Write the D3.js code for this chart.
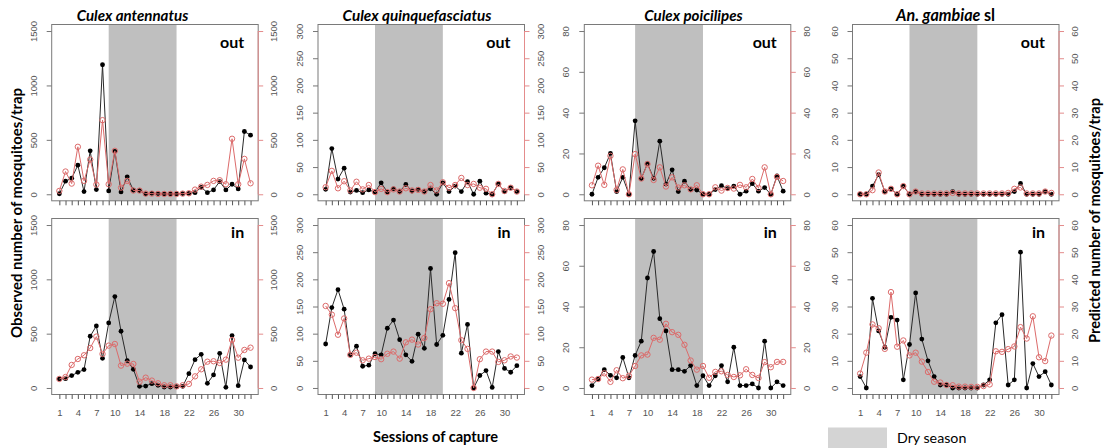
<!DOCTYPE html>
<html><head><meta charset="utf-8">
<script src="https://cdn.jsdelivr.net/npm/d3@7"></script>
<style>body{margin:0;background:#fff} svg{display:block}</style>
</head><body><svg id="c" width="1104" height="448"></svg>
<script>
// ---------- data ----------
const sessions = [1,2,3,4,5,6,7,8,9,10,11,12,13,14,15,16,17,18,19,20,21,22,23,24,25,26,27,28,29,30,31,32];
const sessionLabels = [1,4,7,10,14,18,22,26,30];
const species = ["Culex antennatus","Culex quinquefasciatus","Culex poicilipes","An. gambiae sl"];
const places = ["out","in"];
const yMaxes = [1500,300,80,60];
const yTicks = [[0,500,1000,1500],[0,50,100,150,200,250,300],[0,20,40,60,80],[0,10,20,30,40,50,60]];
const dryStart = [9,9,8,9];
const dryEnd = [20,20,19,20];

const antennatusOutObs  = [5,120,147,267,25,399,43,1190,31,395,22,160,37,34,3,9,6,3,3,3,6,9,15,64,15,40,117,40,92,49,577,543];
const antennatusOutPred = [31,209,98,436,123,319,89,681,92,399,61,123,34,34,6,6,3,3,3,3,6,9,43,70,86,123,129,92,510,92,325,101];
const antennatusInObs   = [83,86,114,144,169,476,571,273,599,841,522,252,172,15,18,40,25,9,9,12,15,132,261,310,43,120,319,6,482,21,258,193];
const antennatusInPred  = [83,101,212,267,301,368,473,313,390,405,206,224,221,58,95,68,43,25,25,15,25,37,107,172,242,246,230,261,442,279,350,371];

const quinqOutObs  = [9,84,28,48,4,7,3,8,4,21,4,10,5,18,6,9,5,10,0,21,5,15,5,23,0,24,2,0,19,5,12,5];
const quinqOutPred = [13,43,11,24,7,23,9,17,4,10,4,9,5,11,7,8,5,17,7,22,12,17,30,17,19,12,10,0,19,6,12,5];
const quinqInObs   = [81,148,181,145,61,77,40,42,63,61,110,125,89,61,49,99,73,220,80,97,163,249,64,117,0,23,32,1,67,36,29,41];
const quinqInPred  = [151,135,98,128,61,65,51,54,57,53,63,67,54,84,89,80,92,145,156,155,193,147,88,72,0,53,67,67,48,51,58,56];

const poicOutObs  = [0,8.3,13,20,1.3,8.3,0,36,7.7,15,7.8,26,5,12,1.3,6.4,2.3,2.1,0,0,2.3,4.2,2.8,4,0,1.5,5.2,1.5,3.3,0,9,1.5];
const poicOutPred = [4.4,14,4.6,18.8,2.1,12.2,0,19.7,7.7,14.8,7,13.2,3.8,8.3,3.3,4.4,2.4,4.4,0,0,3.4,1.8,3.1,2.8,4.6,3.4,7.5,3.1,13.2,0,8.5,6.5];
const poicInObs   = [1.2,4.4,9,6.2,5,15,5,16,23,54,67,34,28,9,9,8.2,11,1.2,6,1.2,6,11,3,20,1.2,1.2,2,0,23,0,3,1.2];
const poicInPred  = [4.1,4.4,7.2,3,8.7,4.8,6,10.8,16,16.4,24.6,23.7,31.5,27.4,26.1,21.2,13.5,9,10.8,5,7.9,8.2,6.4,5.4,6.2,9.2,6.4,4.9,12.7,10.2,12.8,12.8];

const gambOutObs  = [0,0,3,7.2,1,2,0,3,0,1,0,0,0,0,0,1,0,0,0,0,0,0,0,0,0,1,4,0,0,0,1,0];
const gambOutPred = [0,0,1.5,8,1,2,0,3,0,1,0.3,0.3,0.3,0.3,0.3,0.5,0.3,0.3,0.3,0.3,0.3,0.3,0.3,0.3,0.5,2,2.5,0.3,0.3,0.3,1,0.5];
const gambInObs   = [4.2,0,33,21,15,26,25,3,16,35,18,10,4.2,1.1,1.1,0,0,0,0,0,1.1,3,24,27,1.1,3,50,0,9,4.2,6,1.1];
const gambInPred  = [5.3,13,23.4,22,14.4,35.3,15.2,17.5,12,13,9.7,5.9,2.3,2,1.1,1,0.5,0.5,0.4,0.4,0.7,1.3,13.5,13.3,14.3,15.3,22.4,18.2,26.4,11.3,9.9,19.3];

const observed = [[antennatusOutObs,antennatusInObs],[quinqOutObs,quinqInObs],[poicOutObs,poicInObs],[gambOutObs,gambInObs]];
const predicted = [[antennatusOutPred,antennatusInPred],[quinqOutPred,quinqInPred],[poicOutPred,poicInPred],[gambOutPred,gambInPred]];

// ---------- layout ----------
const svg = d3.select("#c");
const boxLefts = [51.7, 318, 584.3, 852.5];
const boxW = 206.5;
const rowTop = [24.5, 218.5];
const rowBottom = [200.8, 394.5];
const titleX = [132.5, 417, 693.5, 945.5];
const placeBaseline = [48, 237.5];
const RED = "#dc6b6b", REDL = "#e48c8c", GRAY = "#555";
const tickFont = "'Liberation Sans', Arial, sans-serif";
const labFont = "Lato, 'Open Sans', sans-serif";
const fmt = d3.format("d");

function fit(sel, target){
  const w = sel.node().getComputedTextLength();
  const fs = parseFloat(sel.attr("font-size"));
  sel.attr("font-size", (fs*target/w).toFixed(2));
}

for (let c = 0; c < 4; c++) {
  for (let r = 0; r < 2; r++) {
    const L = boxLefts[c], R = L + boxW, T = rowTop[r], B = rowBottom[r];
    const yMax = yMaxes[c];
    const x = d3.scaleLinear().domain([1-1.24, 32+1.24]).range([L, R]);
    const y = d3.scaleLinear().domain([-0.04*yMax, 1.04*yMax]).range([B, T]);
    const g = svg.append("g");

    // dry season band
    g.append("rect").attr("x", x(dryStart[c])).attr("y", T)
      .attr("width", x(dryEnd[c]) - x(dryStart[c])).attr("height", B - T)
      .attr("fill", "#bfbfbf");

    // box
    g.append("rect").attr("x", L).attr("y", T).attr("width", boxW).attr("height", B - T)
      .attr("fill", "none").attr("stroke", "#7a7a7a").attr("stroke-width", 1);

    // left axis
    const la = g.append("g").attr("transform", `translate(${L},0)`)
      .call(d3.axisLeft(y).tickValues(yTicks[c]).tickFormat(fmt).tickSize(5).tickSizeOuter(0));
    la.select(".domain").remove();
    la.selectAll(".tick line").attr("stroke", "#777");
    la.selectAll(".tick text").attr("transform", "rotate(-90)").attr("x", 0).attr("y", -15)
      .attr("dy", 0).attr("text-anchor", "middle").attr("fill", GRAY)
      .attr("font-family", tickFont).attr("font-size", 9.5);

    // right axis (predicted)
    const ra = g.append("g").attr("transform", `translate(${R},0)`)
      .call(d3.axisRight(y).tickValues(yTicks[c]).tickFormat(fmt).tickSize(5).tickSizeOuter(0));
    ra.select(".domain").remove();
    ra.selectAll(".tick line").attr("stroke", REDL);
    ra.selectAll(".tick text").attr("transform", "rotate(-90)").attr("x", 0).attr("y", 19)
      .attr("dy", 0).attr("text-anchor", "middle").attr("fill", GRAY)
      .attr("font-family", tickFont).attr("font-size", 9.5);
    g.append("line").attr("x1", R).attr("x2", R).attr("y1", y(0)).attr("y2", y(yMax))
      .attr("stroke", REDL);

    // bottom axis
    const ba = g.append("g").attr("transform", `translate(0,${B})`)
      .call(d3.axisBottom(x).tickValues(sessions).tickSize(4.5).tickSizeOuter(0)
        .tickFormat(d => (r === 1 && sessionLabels.includes(d)) ? d : ""));
    ba.select(".domain").remove();
    ba.selectAll(".tick line").attr("stroke", "#555");
    ba.selectAll(".tick text").attr("y", 21).attr("dy", 0).attr("fill", GRAY)
      .attr("font-family", tickFont).attr("font-size", 9.5);

    // observed series
    const obs = observed[c][r], pred = predicted[c][r];
    const line = d3.line().x((d, i) => x(sessions[i])).y(d => y(d));
    g.append("path").attr("d", line(obs)).attr("fill", "none").attr("stroke", "#2a2a2a").attr("stroke-width", 1);
    g.selectAll(null).data(obs).enter().append("circle")
      .attr("cx", (d, i) => x(sessions[i])).attr("cy", d => y(d)).attr("r", 2.4).attr("fill", "#000");
    // predicted series
    g.append("path").attr("d", line(pred)).attr("fill", "none").attr("stroke", RED).attr("stroke-width", 1);
    g.selectAll(null).data(pred).enter().append("circle")
      .attr("cx", (d, i) => x(sessions[i])).attr("cy", d => y(d)).attr("r", 2.7)
      .attr("fill", "none").attr("stroke", RED).attr("stroke-width", 1);

    // place label
    g.append("text").attr("x", R - 14).attr("y", placeBaseline[r]).attr("text-anchor", "end")
      .attr("font-family", labFont).attr("font-weight", "bold").attr("font-size", 16)
      .attr("fill", "#000").text(places[r]);
  }
}

// titles
const titleW = [111.6, 149, 98.4, 99];
species.forEach((s, c) => {
  const t = svg.append("text").attr("x", titleX[c]).attr("y", 20.5).attr("text-anchor", "middle")
    .attr("font-family", labFont).attr("font-weight", "bold").attr("font-size", 14).attr("fill", "#000");
  if (s.endsWith(" sl")) {
    t.append("tspan").attr("font-style", "italic").text(s.slice(0, -3) + " ");
    t.append("tspan").text("sl");
  } else {
    t.attr("font-style", "italic").text(s);
  }
  fit(t, titleW[c]);
});

// axis titles
const xt = svg.append("text").attr("x", 435.5).attr("y", 441.5).attr("text-anchor", "middle")
  .attr("font-family", labFont).attr("font-weight", "bold").attr("font-size", 14).attr("fill", "#000")
  .text("Sessions of capture");
fit(xt, 125);

const yl = svg.append("text").attr("transform", "translate(22,213) rotate(-90)").attr("text-anchor", "middle")
  .attr("font-family", labFont).attr("font-weight", "bold").attr("font-size", 14).attr("fill", "#000")
  .text("Observed number of mosquitoes/trap");
fit(yl, 250);

const yr = svg.append("text").attr("transform", "translate(1100,220.5) rotate(-90)").attr("text-anchor", "middle")
  .attr("font-family", labFont).attr("font-weight", "bold").attr("font-size", 14).attr("fill", "#000")
  .text("Predicted number of mosquitoes/trap");
fit(yr, 245);

// legend
svg.append("rect").attr("x", 828).attr("y", 427.5).attr("width", 59).attr("height", 21).attr("fill", "#d4d4d4");
const lt = svg.append("text").attr("x", 897).attr("y", 442.5).attr("font-family", labFont)
  .attr("font-size", 14).attr("fill", "#000").text("Dry season");
fit(lt, 69.4);
</script></body></html>
